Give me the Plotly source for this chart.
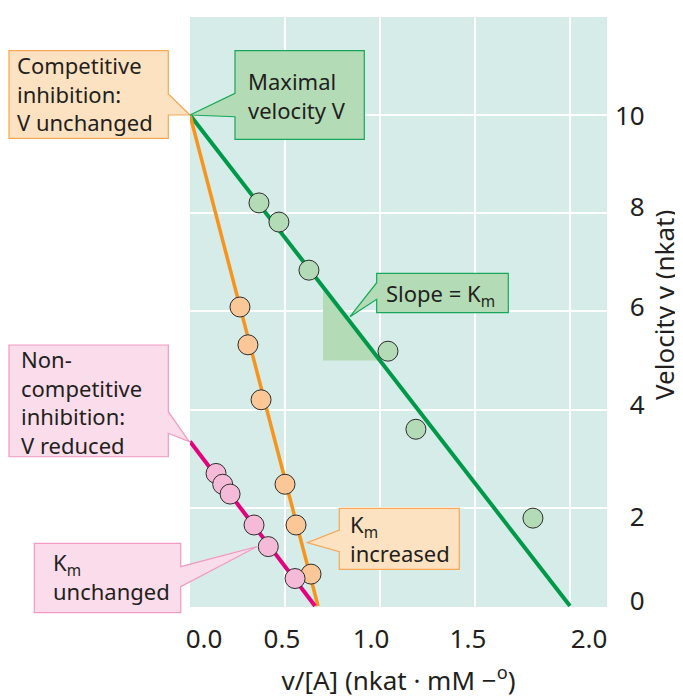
import plotly.graph_objects as go

# Eadie-Hofstee plot, v against v/[A]
ctrl_ratio = [0.363, 0.468, 0.626, 1.042, 1.189, 1.805]
ctrl_v = [8.21, 7.82, 6.84, 5.19, 3.60, 1.79]
comp_ratio = [0.263, 0.305, 0.374, 0.500, 0.558, 0.637]
comp_v = [6.09, 5.32, 4.20, 2.48, 1.65, 0.65]
noncomp_ratio = [0.137, 0.172, 0.211, 0.337, 0.412, 0.553]
noncomp_v = [2.70, 2.48, 2.28, 1.65, 1.21, 0.56]

# fitted lines: maximal velocity V and Km (uninhibited, competitive, non-competitive)
fit_vmax = [10.0, 10.0, 3.35]
fit_km = [5.0, 14.84, 5.09]

# slope triangle under the uninhibited line
slope_ratio = [0.70, 0.70, 1.00]
slope_v = [6.50, 5.00, 5.00]

x_tick_labels = ["0.0", "0.5", "1.0", "1.5", "2.0"]
y_tick_labels = ["10", "\u20078", "\u20076", "\u20074", "\u20072", "\u20070"]

# the labels sit a little off the grid in the original drawing
x_tick_pos = [0.074, 0.484, 0.953, 1.463, 2.10]
y_tick_pos = [9.98, 8.12, 6.09, 4.09, 1.81, 0.10]

GREEN, ORANGE, PINK = "#00994a", "#f7941d", "#e5007e"
GREEN_FILL, ORANGE_FILL, PINK_FILL = "#b3dcb6", "#fcc796", "#f5bad8"
TEXT = "#231f20"
FONT = "Noto Sans"
NOTE_SIZE = 22

# page body adds 8px, so the figure is 8px smaller than the window
W, H = 675, 690
L, R, T, B = 182, 76, 9, 91
PW, PH = W - L - R, H - T - B
PLOT_LEFT, PLOT_BOTTOM = 190, 607   # plot corner in window pixels


def paper(px, py):
    return (px - PLOT_LEFT) / PW, (PLOT_BOTTOM - py) / PH


def path(points):
    pts = [paper(x, y) for x, y in points]
    return "M " + " L ".join("{:.4f},{:.4f}".format(x, y) for x, y in pts) + " Z"


# callouts: outline in window pixels, colours, text with left edge and block centre
callouts = [
    dict(points=[(9, 50.7), (168.3, 50.7), (168.3, 94), (190, 115), (168.3, 115), (168.3, 138.3), (9, 138.3)],
         fill="#fde2c1", edge="#f7a758",
         text="Competitive<br>inhibition:<br>V unchanged", left=16, mid=93.5),
    dict(points=[(235, 50.7), (364.3, 50.7), (364.3, 139.3), (235, 139.3), (235, 116.7), (190, 115), (235, 93.3)],
         fill=GREEN_FILL, edge="#18a75a",
         text="Maximal<br>velocity V", left=247, mid=95.2),
    dict(points=[(376.7, 273.3), (508.3, 273.3), (508.3, 312.7), (376.7, 312.7), (376.7, 299.3), (350, 316.7), (376.7, 282.7)],
         fill=GREEN_FILL, edge="#18a75a",
         text="Slope = K<sub>m</sub>", left=385, mid=292.2),
    dict(points=[(9, 345), (168.3, 345), (168.3, 411.7), (189.3, 441.7), (168.3, 433.3), (168.3, 456.7), (9, 456.7)],
         fill="#fbdcea", edge="#f29ac3",
         text="Non-<br>competitive<br>inhibition:<br>V reduced", left=20, mid=401.5),
    dict(points=[(34.3, 543.3), (180.7, 543.3), (180.7, 566.7), (256.7, 546.7), (180.7, 586.7), (180.7, 612.7), (34.3, 612.7)],
         fill="#fbdcea", edge="#f29ac3",
         text="K<sub>m</sub><br>unchanged", left=51.7, mid=576.2),
    dict(points=[(339.3, 508.3), (459.3, 508.3), (459.3, 569.3), (339.3, 569.3), (339.3, 551.7), (307.3, 542.7), (339.3, 530)],
         fill="#fde2c1", edge="#f7a758",
         text="K<sub>m</sub><br>increased", left=349, mid=537.8),
]

fig = go.Figure()

fig.add_trace(go.Scatter(x=slope_ratio, y=slope_v, fill="toself", fillcolor=GREEN_FILL,
                         mode="lines", line=dict(width=0), hoverinfo="skip"))

line_colors = [GREEN, ORANGE, PINK]
line_widths = [4, 3.5, 4]
for vmax, km, color, lw in zip(fit_vmax, fit_km, line_colors, line_widths):
    fig.add_trace(go.Scatter(x=[0, vmax / km], y=[vmax, 0], mode="lines",
                             line=dict(color=color, width=lw)))

for xs, ys, fill in [(ctrl_ratio, ctrl_v, GREEN_FILL), (comp_ratio, comp_v, ORANGE_FILL),
                     (noncomp_ratio, noncomp_v, PINK_FILL)]:
    fig.add_trace(go.Scatter(x=xs, y=ys, mode="markers",
                             marker=dict(size=20, color=fill, line=dict(color="#2d2d2d", width=1))))

# empty trace so the labelled overlay axes get drawn
fig.add_trace(go.Scatter(x=[], y=[], xaxis="x2", yaxis="y2", hoverinfo="skip"))

shapes = []
annotations = []
cap = 0.714 * NOTE_SIZE
for c in callouts:
    shapes.append(dict(type="path", path=path(c["points"]), xref="paper", yref="paper",
                       fillcolor=c["fill"], line=dict(color=c["edge"], width=1.2), layer="above"))
    n = c["text"].count("<br>") + 1
    block = (n - 1) * 1.3 * NOTE_SIZE + cap
    top = c["mid"] - block / 2 + cap - 1 - 1.069 * NOTE_SIZE
    x, y = paper(c["left"] - 1, top)
    annotations.append(dict(text=c["text"], x=x, y=y, xref="paper", yref="paper", xanchor="left",
                            yanchor="top", align="left", showarrow=False, borderpad=1,
                            font=dict(family=FONT, size=NOTE_SIZE, color=TEXT)))

# y title placed by hand so it is not squeezed against the page edge
tx, ty = paper(664, 305)
annotations.append(dict(text="Velocity v (nkat)", x=tx, y=ty, xref="paper", yref="paper",
                        xanchor="center", yanchor="middle", textangle=-90, showarrow=False,
                        font=dict(family=FONT, size=26, color=TEXT)))

x_range = [0, PW / 190.0]
y_range = [-0.02, -0.02 + PH / 49.1]

fig.update_layout(
    width=W, height=H,
    margin=dict(l=L, r=R, t=T, b=B),
    paper_bgcolor="white",
    plot_bgcolor="#d5ece8",
    showlegend=False,
    font=dict(family=FONT, color=TEXT),
    xaxis=dict(range=x_range, tickvals=[0.5, 1.0, 1.5, 2.0], showticklabels=False, showgrid=True,
               gridcolor="white", gridwidth=1.5, zeroline=False, ticks="", showline=False,
               automargin=False),
    yaxis=dict(range=y_range, tickvals=[2, 4, 6, 8, 10], showticklabels=False, showgrid=True,
               gridcolor="white", gridwidth=1.5, zeroline=False, ticks="", showline=False,
               automargin=False),
    xaxis2=dict(range=x_range, overlaying="x", side="bottom", anchor="y2", tickvals=x_tick_pos,
                ticktext=x_tick_labels, showgrid=False, zeroline=False, ticks="", automargin=False,
                ticklabelstandoff=14, tickfont=dict(size=26, color=TEXT),
                title=dict(text="v/[A] (nkat · mM −<sup>o</sup>)", font=dict(size=26, color=TEXT),
                           standoff=21)),
    yaxis2=dict(range=y_range, overlaying="y", side="right", anchor="x2", tickvals=y_tick_pos,
                ticktext=y_tick_labels, showgrid=False, zeroline=False, ticks="", automargin=False,
                ticklabelstandoff=7, tickfont=dict(size=26, color=TEXT)),
    shapes=shapes,
    annotations=annotations,
)

fig.write_html("out.html")
